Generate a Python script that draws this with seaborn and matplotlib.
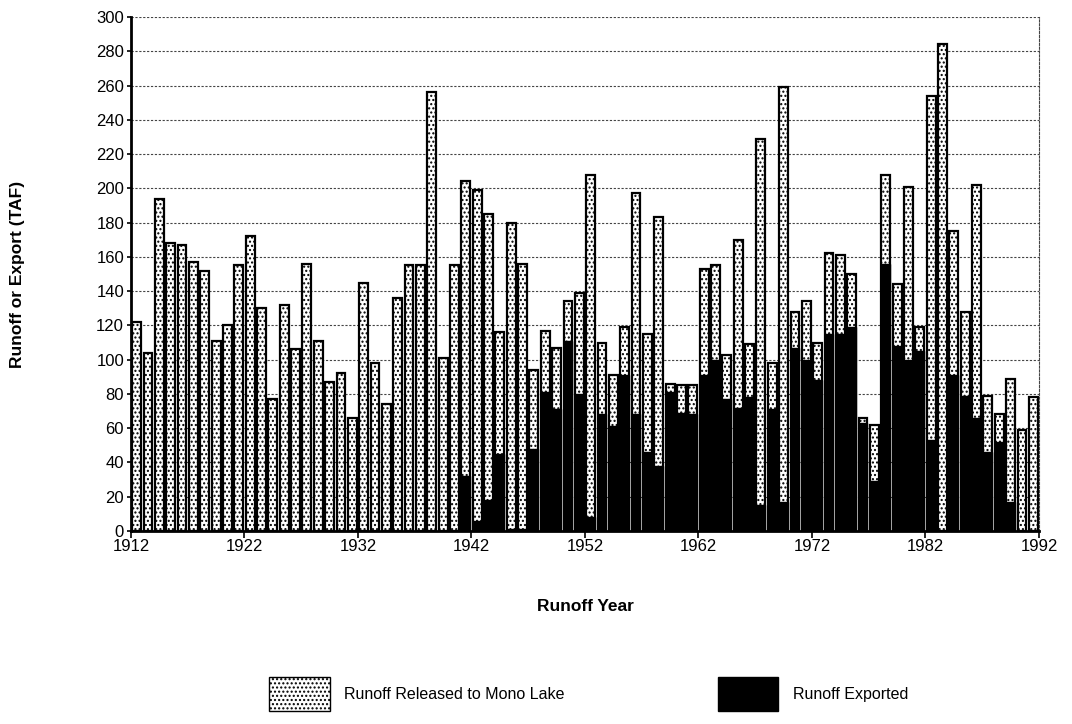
import matplotlib
matplotlib.use("Agg")
import matplotlib.pyplot as plt
from matplotlib.patches import Patch
import seaborn as sns
import pandas as pd
import numpy as np

years = list(range(1912, 1992))
total_runoff = [122, 104, 194, 168, 167, 157, 152, 111, 120, 155,
                172, 130, 77, 132, 106, 156, 111, 87, 92, 66,
                145, 98, 74, 136, 155, 155, 256, 101, 155, 204,
                199, 185, 116, 180, 156, 94, 117, 107, 134, 139,
                208, 110, 91, 119, 197, 115, 183, 86, 85, 85,
                153, 155, 103, 170, 109, 229, 98, 259, 128, 134,
                110, 162, 161, 150, 66, 62, 208, 144, 201, 119,
                254, 284, 175, 128, 202, 79, 68, 89, 59, 78]
exported = [0] * 29 + [32, 6, 18, 45, 1, 1, 48, 81, 71, 111,
                       80, 8, 68, 61, 91, 68, 46, 38, 81, 69,
                       68, 91, 100, 77, 72, 78, 15, 71, 17, 107,
                       100, 88, 115, 115, 119, 63, 29, 156, 108, 100,
                       105, 53, 0, 91, 79, 66, 46, 52, 17, 0, 0]
x_ticks = [1912, 1922, 1932, 1942, 1952, 1962, 1972, 1982, 1992]
y_ticks = list(range(0, 301, 20))
legend_labels = ["Runoff Released to Mono Lake", "Runoff Exported"]

df = pd.DataFrame({"year": np.array(years) + 0.5,
                   "total": total_runoff,
                   "exported": exported})

sns.set_style("ticks")
plt.rcParams["font.family"] = ["Liberation Sans", "DejaVu Sans"]
plt.rcParams["hatch.linewidth"] = 1.0
plt.rcParams["text.color"] = "black"
plt.rcParams["axes.labelcolor"] = "black"

fig = plt.figure(figsize=(10.72, 7.24), dpi=100)
ax = fig.add_axes([0.1222, 0.2666, 0.847, 0.7099])

# released (stippled) drawn as full runoff bar, exported (black) overlaid from zero
sns.barplot(data=df, x="year", y="total", native_scale=True, orient="x",
            width=0.78, color="white", saturation=1, edgecolor="black",
            linewidth=1.6, hatch="....", errorbar=None, ax=ax, zorder=2)
sns.barplot(data=df, x="year", y="exported", native_scale=True, orient="x",
            width=0.78, color="black", saturation=1, edgecolor="black",
            linewidth=1.0, errorbar=None, ax=ax, zorder=3)

ax.set_xlim(1912, 1992)
ax.set_ylim(0, 300)
ax.set_xticks(x_ticks)
ax.set_xticklabels([str(t) for t in x_ticks])
ax.set_yticks(y_ticks)
ax.yaxis.grid(True, linestyle=(0, (2, 1.5)), color="#444444", linewidth=0.8)
ax.set_axisbelow(True)
ax.tick_params(axis="both", labelsize=12, direction="out", length=5,
               width=1.2, colors="black")
ax.tick_params(axis="x", pad=1)
ax.tick_params(axis="y", length=3, pad=2)

for s in ["left", "bottom"]:
    ax.spines[s].set_linewidth(2.0)
    ax.spines[s].set_color("black")
ax.spines["top"].set_visible(False)
ax.spines["right"].set_visible(True)
ax.spines["right"].set_linestyle((0, (2, 1.5)))
ax.spines["right"].set_linewidth(0.8)
ax.spines["right"].set_color("#444444")

ax.set_xlabel("Runoff Year", fontsize=12.5, fontweight="bold", labelpad=32)
ax.set_ylabel("Runoff or Export (TAF)", fontsize=12.5, fontweight="bold")
ax.yaxis.set_label_coords(-0.117, 0.5)

handles = [Patch(facecolor="white", edgecolor="black", hatch="....",
                 linewidth=1.0),
           Patch(facecolor="black", edgecolor="black")]
fig.legend(handles, legend_labels, loc="center", bbox_to_anchor=(0.549, 0.041),
           ncol=2, frameon=False, fontsize=11.5, handlelength=3.8,
           handleheight=2.9, columnspacing=9.6, handletextpad=0.9)

fig.savefig("out.png", dpi=100)
